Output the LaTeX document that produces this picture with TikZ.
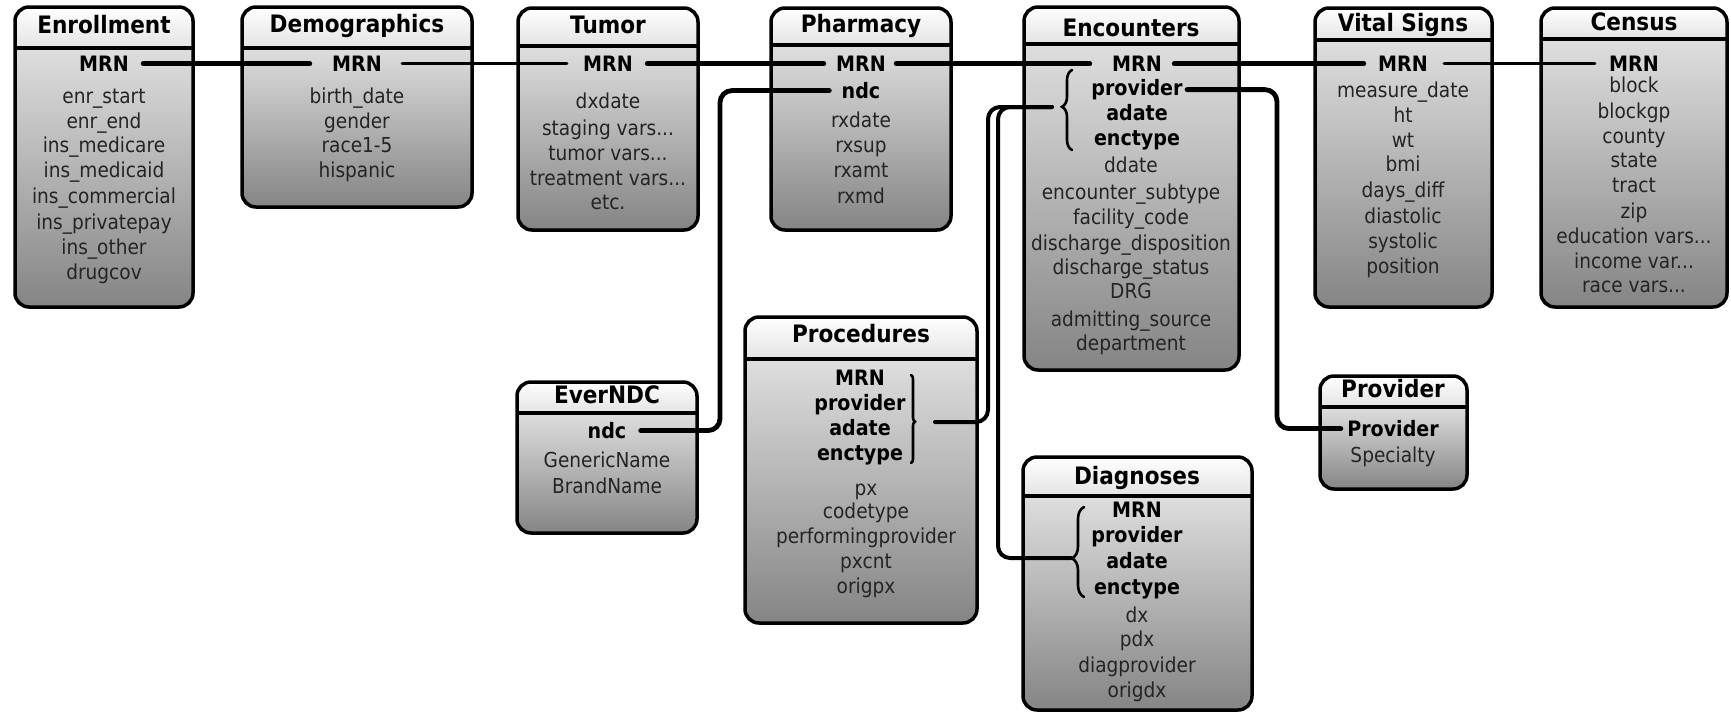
\documentclass[tikz,border=0pt]{standalone}
\usepackage{fontspec}
\setmainfont{DejaVu Sans}[FakeStretch=0.9]
\usetikzlibrary{decorations.pathreplacing,calc}
\tikzset{
 boxline/.style={line width=1.75pt, black},
 hdrline/.style={line width=2pt, black},
 fld/.style={anchor=mid, inner sep=0pt, font=\fontsize{10.3}{12}\selectfont, text=black!86},
 key/.style={anchor=mid, inner sep=0pt, font=\fontsize{10.6}{12}\selectfont\bfseries, text=black},
 ttl/.style={anchor=mid, inner sep=0pt, font=\fontsize{12}{14}\selectfont\bfseries, text=black},
 conn/.style={line width=2.4pt, line cap=round, black},
 connthin/.style={conn, line width=1.6pt},
 bendy/.style={rounded corners=6pt},
 brc/.style={decorate, line width=1.3pt, line cap=round, black},
}
\newcommand\dbtable[5]{%
 \begin{scope}
 \clip[rounded corners=7pt] (#1,#2) rectangle (#3,#4);
 \shade[top color=white, bottom color=black!11] (#1,#2) rectangle (#3,#5);
 \shade[top color=black!13, bottom color=black!48] (#1,#5) rectangle (#3,#4);
 \end{scope}
 \draw[boxline, rounded corners=7pt] (#1,#2) rectangle (#3,#4);
 \draw[hdrline] (#1,#5) -- (#3,#5);
}
\begin{document}
\begin{tikzpicture}[x=0.5pt, y=-0.5pt]
\useasboundingbox (0,0) rectangle (1731,713);
\fill[white] (0,0) rectangle (1731,713);

% Enrollment
\dbtable{15}{7}{193}{307}{48}
\node[ttl] (enrT) at (104,28) {Enrollment};
\node[key] (enrMRN) at (104,66) {MRN};
\node[fld] (enr1) at (104,98) {enr\_start};
\node[fld] (enr2) at (104,123) {enr\_end};
\node[fld] (enr3) at (104,147) {ins\_medicare};
\node[fld] (enr4) at (104,172) {ins\_medicaid};
\node[fld] (enr5) at (104,198) {ins\_commercial};
\node[fld] (enr6) at (104,224) {ins\_privatepay};
\node[fld] (enr7) at (104,249) {ins\_other};
\node[fld] (enr8) at (104,274) {drugcov};

% Demographics
\dbtable{242}{7}{472}{207}{48}
\node[ttl] (demT) at (357,27) {Demographics};
\node[key] (demMRN) at (357,66) {MRN};
\node[fld] (dem1) at (357,98) {birth\_date};
\node[fld] (dem2) at (357,123) {gender};
\node[fld] (dem3) at (357,147) {race1-5};
\node[fld] (dem4) at (357,172) {hispanic};

% Tumor
\dbtable{518}{8}{698}{230}{46}
\node[ttl] (tumT) at (608,28) {Tumor};
\node[key] (tumMRN) at (608,66) {MRN};
\node[fld] (tum1) at (608,103) {dxdate};
\node[fld] (tum2) at (608,130) {staging vars...};
\node[fld] (tum3) at (608,155) {tumor vars...};
\node[fld] (tum4) at (608,180) {treatment vars...};
\node[fld] (tum5) at (608,204) {etc.};

% Pharmacy
\dbtable{771}{8}{951}{230}{45}
\node[ttl] (phaT) at (861,27) {Pharmacy};
\node[key] (phaMRN) at (861,66) {MRN};
\node[key] (phaNDC) at (861,93) {ndc};
\node[fld] (pha1) at (861,122) {rxdate};
\node[fld] (pha2) at (861,147) {rxsup};
\node[fld] (pha3) at (861,172) {rxamt};
\node[fld] (pha4) at (861,198) {rxmd};

% Encounters
\dbtable{1024}{7}{1239}{370}{44}
\node[ttl] (encT) at (1131,31) {Encounters};
\node[key] (encMRN) at (1137,66) {MRN};
\node[key] (encProv) at (1137,90) {provider};
\node[key] (encAdate) at (1137,115) {adate};
\node[key] (encType) at (1137,140) {enctype};
\node[fld] (enc1) at (1131,167) {ddate};
\node[fld] (enc2) at (1131,194) {encounter\_subtype};
\node[fld] (enc3) at (1131,219) {facility\_code};
\node[fld] (enc4) at (1131,245) {discharge\_disposition};
\node[fld] (enc5) at (1131,269) {discharge\_status};
\node[fld] (enc6) at (1131,293) {DRG};
\node[fld] (enc7) at (1131,321) {admitting\_source};
\node[fld] (enc8) at (1131,345) {department};

% Vital Signs
\dbtable{1315}{8}{1492}{307}{40}
\node[ttl] (vitT) at (1403,26) {Vital Signs};
\node[key] (vitMRN) at (1403,66) {MRN};
\node[fld] (vit1) at (1403,92) {measure\_date};
\node[fld] (vit2) at (1403,117) {ht};
\node[fld] (vit3) at (1403,142) {wt};
\node[fld] (vit4) at (1403,166) {bmi};
\node[fld] (vit5) at (1403,192) {days\_diff};
\node[fld] (vit6) at (1403,218) {diastolic};
\node[fld] (vit7) at (1403,243) {systolic};
\node[fld] (vit8) at (1403,268) {position};

% Census
\dbtable{1541}{8}{1727}{307}{39}
\node[ttl] (cenT) at (1634,25) {Census};
\node[key] (cenMRN) at (1634,66) {MRN};
\node[fld] (cen1) at (1634,87) {block};
\node[fld] (cen2) at (1634,113) {blockgp};
\node[fld] (cen3) at (1634,138) {county};
\node[fld] (cen4) at (1634,162) {state};
\node[fld] (cen5) at (1634,187) {tract};
\node[fld] (cen6) at (1634,213) {zip};
\node[fld] (cen7) at (1634,238) {education vars...};
\node[fld] (cen8) at (1634,263) {income var...};
\node[fld] (cen9) at (1634,287) {race vars...};

% EverNDC
\dbtable{517}{382}{697}{533}{413}
\node[ttl] (evT) at (607,398) {EverNDC};
\node[key] (evNDC) at (607,433) {ndc};
\node[fld] (ev1) at (607,462) {GenericName};
\node[fld] (ev2) at (607,488) {BrandName};

% Procedures
\dbtable{745}{317}{977}{623}{359}
\node[ttl] (proT) at (861,337) {Procedures};
\node[key] (proMRN) at (860,380) {MRN};
\node[key] (proProv) at (860,405) {provider};
\node[key] (proAdate) at (860,430) {adate};
\node[key] (proType) at (860,455) {enctype};
\node[fld] (pro1) at (866,490) {px};
\node[fld] (pro2) at (866,513) {codetype};
\node[fld] (pro3) at (866,538) {performingprovider};
\node[fld] (pro4) at (866,563) {pxcnt};
\node[fld] (pro5) at (866,588) {origpx};

% Diagnoses
\dbtable{1023}{457}{1252}{710}{496}
\node[ttl] (diaT) at (1137,479) {Diagnoses};
\node[key] (diaMRN) at (1137,512) {MRN};
\node[key] (diaProv) at (1137,537) {provider};
\node[key] (diaAdate) at (1137,563) {adate};
\node[key] (diaType) at (1137,589) {enctype};
\node[fld] (dia1) at (1137,617) {dx};
\node[fld] (dia2) at (1137,641) {pdx};
\node[fld] (dia3) at (1137,667) {diagprovider};
\node[fld] (dia4) at (1137,692) {origdx};

% Provider
\dbtable{1320}{376}{1467}{489}{407}
\node[ttl] (prvT) at (1393,392) {Provider};
\node[key] (prvKey) at (1393,431) {Provider};
\node[fld] (prv1) at (1393,457) {Specialty};

% braces
\draw[brc, decoration={brace, amplitude=5pt, aspect=0.54}] (1072,150) -- (1072,70);
\draw[brc, decoration={brace, amplitude=2pt, aspect=0.53}] (911,375) -- (911,463);
\draw[brc, decoration={brace, amplitude=6pt, aspect=0.43}] (1084,597) -- (1084,507);

\coordinate (encTip) at (1052,107);
\coordinate (procTip) at (935,422);
\coordinate (diagTip) at (1071,558);
\coordinate (busA) at (988,0);
\coordinate (busB) at (998,0);
\coordinate (ndcBus) at (720,0);
\coordinate (provBus) at (1277,0);

% MRN chain
\draw[conn] ([xshift=7pt]enrMRN.east) -- ([xshift=-11pt]demMRN.west);
\draw[connthin] ([xshift=10pt]demMRN.east) -- ([xshift=-8pt]tumMRN.west);
\draw[conn] ([xshift=7pt]tumMRN.east) -- ([xshift=-6pt]phaMRN.west);
\draw[conn] ([xshift=5pt]phaMRN.east) -- ([xshift=-11pt]encMRN.west);
\draw[conn] ([xshift=6pt]encMRN.east) -- ([xshift=-7pt]vitMRN.west);
\draw[connthin] ([xshift=8pt]vitMRN.east) -- ([xshift=-7pt]cenMRN.west);

% ndc
\draw[conn, bendy] ([xshift=-6pt]phaNDC.west) -- (ndcBus |- phaNDC.west) -- (ndcBus |- evNDC.east) -- ([xshift=7pt]evNDC.east);
% provider
\draw[conn, bendy] ([xshift=2pt]encProv.east) -- (provBus |- encProv.east) -- (provBus |- prvKey.west) -- ([xshift=-3pt]prvKey.west);
% encounter keys
\draw[conn, line width=2pt, bendy] (procTip) -- (busA |- procTip) -- (busA |- encTip) -- (encTip);
\draw[conn, line width=2pt, bendy] (encTip) -- (busB |- encTip) -- (busB |- diagTip) -- (diagTip);
\end{tikzpicture}
\end{document}
